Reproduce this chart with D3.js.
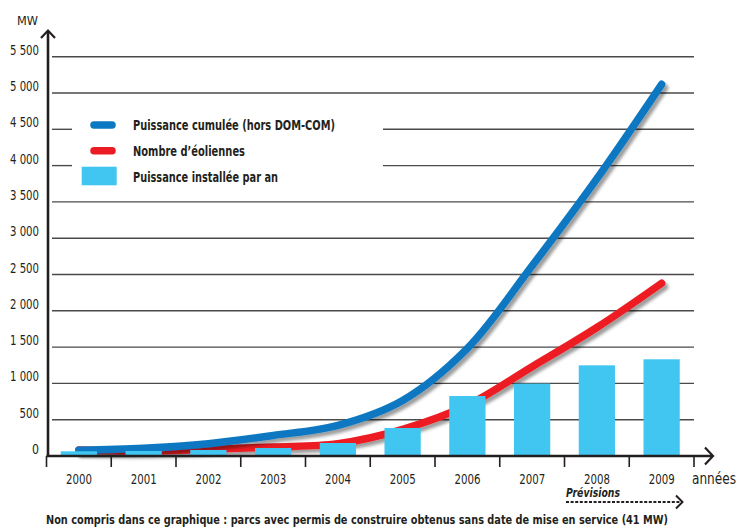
<!DOCTYPE html>
<html>
<head>
<meta charset="utf-8">
<script src="https://cdn.jsdelivr.net/npm/d3@7"></script>
<style>
  html, body { margin: 0; padding: 0; background: #fff; }
  svg { display: block; }
  text { font-family: "Liberation Sans Narrow", "DejaVu Sans Condensed", "Arial Narrow", sans-serif; fill: #231f20; }
</style>
</head>
<body>
<svg id="chart" width="742" height="528"></svg>
<script>
// Éolien en France : puissance cumulée, nombre d'éoliennes, puissance installée par an
const years = ["2000", "2001", "2002", "2003", "2004", "2005", "2006", "2007", "2008", "2009"];
const cumulativePower = [78, 106, 170, 283, 423, 766, 1483, 2620, 3820, 5120];
const turbineCount = [83, 70, 92, 124, 170, 367, 700, 1230, 1770, 2380];
const yearlyPower = [65, 69, 83, 110, 179, 386, 826, 997, 1249, 1332];
const yTicks = [0, 500, 1000, 1500, 2000, 2500, 3000, 3500, 4000, 4500, 5000, 5500];
const legendLabels = ["Puissance cumulée (hors DOM-COM)", "Nombre d’éoliennes", "Puissance installée par an"];
const forecastYears = ["2008", "2009"];

const svg = d3.select("#chart");
const blue = "#0b78c1", red = "#ec1c24", cyan = "#41c6f2";

const x = d3.scaleBand().domain(years).range([46.5, 694]).padding(0);
const xBar = d3.scaleBand().domain(years).range([46.5, 694]).paddingInner(0.44).paddingOuter(0.22);
const y = d3.scaleLinear().domain([0, 5500]).range([456, 56.7]);
const cx = d => x(d) + x.bandwidth() / 2;

// fit a text element to a given width (condensed look)
const fit = (sel, w) => sel.attr("textLength", w).attr("lengthAdjust", "spacingAndGlyphs");

// drop shadow for the curves
const defs = svg.append("defs");
const f = defs.append("filter").attr("id", "shadow").attr("x", "-10%").attr("y", "-10%").attr("width", "130%").attr("height", "130%");
f.append("feDropShadow").attr("dx", 3).attr("dy", 3.5).attr("stdDeviation", 1.8)
  .attr("flood-color", "#000").attr("flood-opacity", 0.38);

// horizontal gridlines (interrupted behind the legend)
const grid = svg.append("g");
yTicks.filter(v => v > 0).forEach(v => {
  const segs = (v === 4000 || v === 4500) ? [[52, 72], [383, 694]] : [[52, 694]];
  segs.forEach(s => grid.append("line")
    .attr("x1", s[0]).attr("x2", s[1]).attr("y1", y(v)).attr("y2", y(v))
    .attr("stroke", "#4a4a4a").attr("stroke-width", 1.4));
});

// y tick labels
svg.append("g").selectAll("text").data(yTicks).join("text")
  .attr("x", 39).attr("y", d => y(d) - 2)
  .attr("text-anchor", "end").attr("font-size", 14)
  .text(d => d3.format(",")(d).replace(",", " "))
  .each(function(d) { const s = d3.select(this).text(); fit(d3.select(this), s.length === 5 ? 29 : s.length === 3 ? 19.5 : 7); });

fit(svg.append("text").attr("x", 17).attr("y", 25).attr("font-size", 13).text("MW"), 21);

// curves
const line = vals => d3.line()
  .x((d, i) => cx(years[i])).y(d => y(d))
  .curve(d3.curveCatmullRom.alpha(0.5))(vals);

svg.append("path").attr("d", line(turbineCount))
  .attr("fill", "none").attr("stroke", red).attr("stroke-width", 7.5)
  .attr("stroke-linecap", "round").attr("stroke-linejoin", "round").attr("filter", "url(#shadow)");
svg.append("path").attr("d", line(cumulativePower))
  .attr("fill", "none").attr("stroke", blue).attr("stroke-width", 7.5)
  .attr("stroke-linecap", "round").attr("stroke-linejoin", "round").attr("filter", "url(#shadow)");

// yearly installed power bars
svg.append("g").selectAll("rect").data(yearlyPower).join("rect")
  .attr("x", (d, i) => xBar(years[i])).attr("width", xBar.bandwidth())
  .attr("y", d => y(d)).attr("height", d => y(0) - y(d))
  .attr("fill", cyan);

// axes
const axes = svg.append("g").attr("stroke", "#231f20").attr("fill", "none");
axes.append("line").attr("x1", 48).attr("x2", 48).attr("y1", 457).attr("y2", 31).attr("stroke-width", 2.6);
axes.append("path").attr("d", "M41,38 L48,30.5 L55,38").attr("stroke-width", 2.2);
axes.append("line").attr("x1", 46.5).attr("x2", 712).attr("y1", 456).attr("y2", 456).attr("stroke-width", 2.4);
axes.append("path").attr("d", "M705,447.5 L713,456 L705,464.5").attr("stroke-width", 2.2);
axes.selectAll("line.tick").data(d3.range(years.length + 1)).join("line")
  .attr("class", "tick")
  .attr("x1", i => 46.5 + i * x.step()).attr("x2", i => 46.5 + i * x.step())
  .attr("y1", 456).attr("y2", 467).attr("stroke-width", 1.6);

svg.append("g").selectAll("text").data(years).join("text")
  .attr("x", d => cx(d)).attr("y", 484)
  .attr("text-anchor", "middle").attr("font-size", 14)
  .text(d => d)
  .each(function() { fit(d3.select(this), 26); });

fit(svg.append("text").attr("x", 736).attr("y", 484).attr("text-anchor", "end")
  .attr("font-size", 16).text("années"), 44);

// forecast marker under 2008–2009
const fx0 = x(forecastYears[0]) + 1.5;
fit(svg.append("text").attr("x", fx0).attr("y", 497)
  .attr("font-size", 12).attr("font-weight", "bold").attr("font-style", "italic")
  .text("Prévisions"), 54);
svg.append("line").attr("x1", fx0).attr("x2", 681).attr("y1", 502).attr("y2", 502)
  .attr("stroke", "#231f20").attr("stroke-width", 2).attr("stroke-dasharray", "3,1.6");
svg.append("path").attr("d", "M676,495.5 L682.5,502 L676,508.5")
  .attr("fill", "none").attr("stroke", "#231f20").attr("stroke-width", 2);

// legend
const lg = svg.append("g");
[blue, red].forEach((c, i) => lg.append("line")
  .attr("x1", 94).attr("x2", 112).attr("y1", 125 + i * 25.7).attr("y2", 125 + i * 25.7)
  .attr("stroke", c).attr("stroke-width", 7.5).attr("stroke-linecap", "round"));
lg.append("rect").attr("x", 81.7).attr("y", 166.7).attr("width", 35).attr("height", 18.6).attr("fill", cyan);
const legendWidths = [202, 112, 145];
legendLabels.forEach((t, i) => fit(lg.append("text")
  .attr("x", 133).attr("y", 130 + i * 26)
  .attr("font-size", 14).attr("font-weight", "bold")
  .text(t), legendWidths[i]));

fit(svg.append("text").attr("x", 46).attr("y", 524)
  .attr("font-size", 12).attr("font-weight", "bold")
  .text("Non compris dans ce graphique : parcs avec permis de construire obtenus sans date de mise en service (41 MW)"), 622);
</script>
</body>
</html>
